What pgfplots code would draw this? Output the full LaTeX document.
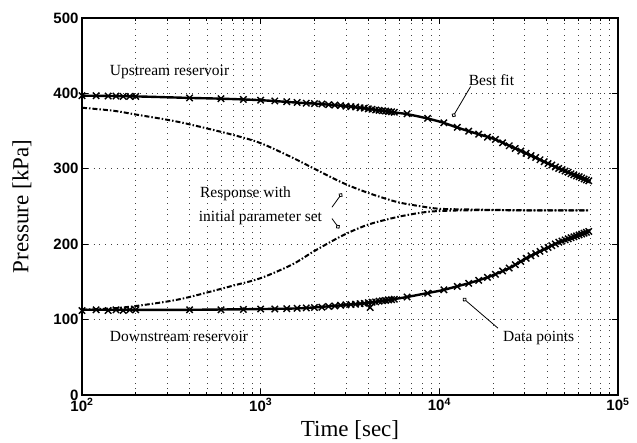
\documentclass[border=0pt]{standalone}
\usepackage{fontspec}
\setmainfont{Liberation Serif}
\newfontfamily\hv{Liberation Sans}
\usepackage{pgfplots}
\pgfplotsset{compat=1.18}
\usetikzlibrary{arrows.meta}

\newcommand{\annot}{\fontsize{15.5}{17}\selectfont}
\tikzset{pin/.style={line width=0.8pt,-{Circle[open,length=4.5pt,width=4.5pt,line width=0.8pt]}}}

\begin{document}
\begin{tikzpicture}
\useasboundingbox (-82pt,-47pt) rectangle (555pt,395pt);
\begin{axis}[
    at={(0,0)}, anchor=south west,
    scale only axis, width=536pt, height=377pt,
    xmode=log, xmin=100, xmax=100000,
    ymin=0, ymax=500,
    xtick={100,1000,10000,100000},
    xticklabels={10\textsuperscript{2},10\textsuperscript{3},10\textsuperscript{4},10\textsuperscript{5}},
    ytick={0,100,...,500},
    xmajorgrids, xminorgrids, ymajorgrids,
    grid style={black!75, line width=0.7pt, dash pattern=on 0.8pt off 5pt},
    minor grid style={black!75, line width=0.7pt, dash pattern=on 0.8pt off 5pt},
    axis line style={line width=2.2pt},
    tick align=inside,
    major tick length=6pt, minor tick length=3.5pt,
    tick style={black, line width=1pt},
    /pgf/number format/assume math mode=true,
    ticklabel style={font=\hv\bfseries\fontsize{15}{15}\selectfont},
    xlabel={Time [sec]},
    ylabel={Pressure [kPa]},
    xlabel style={font=\fontsize{23}{23}\selectfont, at={(axis description cs:0.5,-0.092)}, anchor=center},
    ylabel style={font=\fontsize{23}{23}\selectfont, at={(axis description cs:-0.112,0.5)}, anchor=center},
]

% best fit, upstream
\addplot[black, line width=2.4pt, smooth] coordinates {
 (100,397) (200,396) (400,394) (600,393) (1000,391) (1660,387.5) (2000,386.5)
 (3000,383) (4000,379.5) (5500,375) (6600,372.5) (8500,367) (10400,361.5)
 (12500,355) (16000,347) (20000,340) (25000,330) (31000,320) (38000,310)
 (47000,300) (57000,291.5) (67000,285) (70000,283)};

% best fit, downstream
\addplot[black, line width=2.4pt, smooth] coordinates {
 (100,113) (200,113) (400,113) (1000,114) (1660,115) (2500,118) (3900,122)
 (5500,127) (6600,130) (8500,135) (10400,139) (12500,144) (15000,149)
 (18600,156) (20000,159) (25000,169) (31000,182) (40000,195) (47000,203)
 (57000,210) (67000,216) (70000,217)};

% response with initial parameter set
\addplot[black, line width=2pt, smooth, dash pattern=on 5pt off 2pt on 1.5pt off 2pt] coordinates {
 (100,381) (150,377) (200,372) (300,365) (400,359) (700,345) (1000,334)
 (1500,315) (2000,300) (2900,281) (4000,268) (5800,256) (8000,250)
 (10000,247) (15000,246) (30000,245) (68000,245)};
\addplot[black, line width=2pt, smooth, dash pattern=on 5pt off 2pt on 1.5pt off 2pt] coordinates {
 (100,113) (150,115) (200,118) (300,124) (400,130) (700,145) (1000,155)
 (1500,173) (2000,191) (2900,212) (4000,226) (5800,236) (8000,242)
 (10000,244) (15000,245) (30000,245) (68000,245)};

% data points, upstream
\addplot[only marks, mark=x, mark size=4.5pt, mark options={line width=1.4pt}] coordinates {
 (100,397) (120,397) (140,396.5) (155,396.5) (170,396) (185,396) (200,396)
 (400,394) (600,393) (800,392) (1000,391) (1200,390) (1400,389) (1600,388)
 (1800,387) (2000,386.5) (2200,386) (2400,385) (2600,384.5) (2800,384)
 (3000,383) (3200,382.5) (3400,382) (3600,381) (3800,380.5) (4000,379.5)
 (4200,379) (4400,378) (4600,377.5) (4800,377) (5000,376.5) (5200,376)
 (5400,375.5) (5600,375) (6600,373) (8600,367) (10600,361) (12600,355)
 (14600,350) (16600,346) (18600,342) (20600,339) (22600,334.5) (24600,330.5)
 (26600,327) (28600,323.5) (30600,320.5) (32600,317.5) (34600,315) (36600,312)
 (38600,309.5) (40600,307) (42600,305) (44600,302.5) (46600,300.5) (48600,299)
 (50600,297) (52600,295.5) (54600,293.5) (56600,292) (58600,290.5) (60600,289.5)
 (62600,288) (64600,286.5) (66600,285.2) (68600,284)};

% data points, downstream
\addplot[only marks, mark=x, mark size=4.5pt, mark options={line width=1.4pt}] coordinates {
 (100,112) (120,113) (140,112) (155,113) (170,112) (185,113) (200,113)
 (400,113) (600,113) (800,113.5) (1000,114) (1200,114) (1400,114.5) (1600,115)
 (1800,115.5) (2000,116) (2200,116.5) (2400,117.5) (2600,118) (2800,119)
 (3000,119.5) (3200,120) (3400,120.5) (3600,121) (3800,121.5) (4000,122.5)
 (4100,116) (4200,123) (4400,123.5) (4600,124.5) (4800,125) (5000,125.5)
 (5200,126) (5400,126.5) (5600,127) (6600,130) (8600,135) (10600,139.5)
 (12600,144) (14600,148) (16600,152) (18600,156) (20600,160) (22600,164.5)
 (24600,168.5) (26600,172.8) (28600,177.2) (30600,181.3) (32600,184.6)
 (34600,187.6) (36600,190.5) (38600,193.2) (40600,195.7) (42600,198.1)
 (44600,200.4) (46600,202.7) (48600,204.2) (50600,205.7) (52600,207.1)
 (54600,208.5) (56600,209.8) (58600,211.1) (60600,212.3) (62600,213.5)
 (64600,214.6) (66600,215.7) (68600,216.9)};

% annotations
\node[anchor=west, font=\annot, inner sep=0pt] at (axis cs:143,428) {Upstream reservoir};
\node[anchor=west, font=\annot, inner sep=0pt] at (axis cs:143,77) {Downstream reservoir};
\node[anchor=west, font=\annot, inner sep=0pt] at (axis cs:14600,418) {Best fit};
\node[anchor=west, font=\annot, inner sep=0pt] at (axis cs:22700,75.5) {Data points};
\node[anchor=west, font=\annot, inner sep=0pt] at (axis cs:457,267.5) {Response with};
\node[anchor=west, font=\annot, inner sep=0pt] at (axis cs:450,234.4) {initial parameter set};

\draw[pin] (axis cs:14960,409) -- (axis cs:11870,368.6);
\draw[pin] (axis cs:21280,88.7) -- (axis cs:13550,128.5);
\draw[pin] (axis cs:2506,249) -- (axis cs:2851,267.5);
\draw[pin] (axis cs:2506,234) -- (axis cs:2754,220.8);
\end{axis}
\end{tikzpicture}
\end{document}
